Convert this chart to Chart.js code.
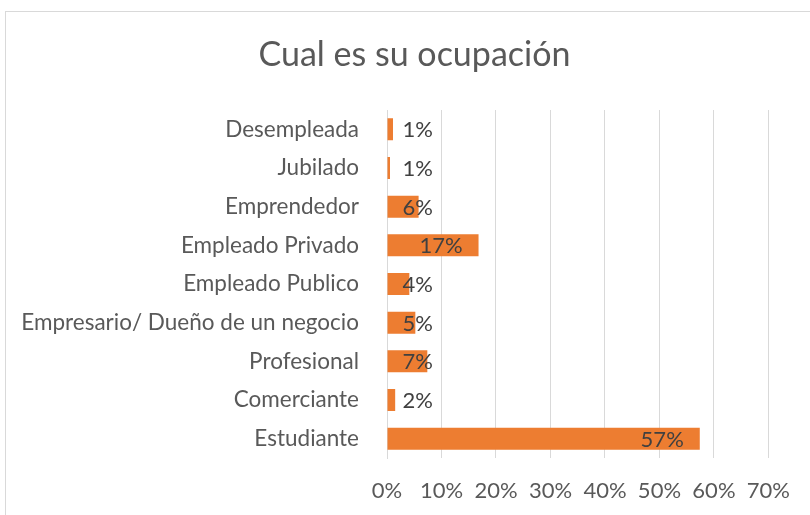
<!DOCTYPE html>
<html>
<head>
<meta charset="utf-8">
<script src="https://cdn.jsdelivr.net/npm/chart.js@4"></script>
<style>
    html, body { margin: 0; padding: 0; background: #fff; overflow: hidden; }
    #frame { position: absolute; left: 5px; top: 11px; width: 840px; height: 540px; border: 1px solid #d9d9d9; }
    #wrap { position: absolute; left: 0; top: 0; width: 810px; height: 515px; }
</style>
</head>
<body>
<div id="frame"></div>
<div id="wrap"><canvas id="chart"></canvas></div>
<script>
// Chart data
const categories = [
    'Desempleada',
    'Jubilado',
    'Emprendedor',
    'Empleado Privado',
    'Empleado Publico',
    'Empresario/ Dueño de un negocio',
    'Profesional',
    'Comerciante',
    'Estudiante'
];
const percentages = [1.1, 0.55, 5.8, 16.8, 4.1, 5.2, 7.4, 1.5, 57.4];
const tickValues = [0, 10, 20, 30, 40, 50, 60, 70];
const chartTitle = 'Cual es su ocupación';

const textColor = '#595959';
const fontFamily = 'Lato, "Noto Sans", sans-serif';

// Title centred on the chart frame (not the plot), like the original
const frameTitle = {
    id: 'frameTitle',
    afterDraw(chart) {
        const ctx = chart.ctx;
        ctx.save();
        ctx.font = '34px ' + fontFamily;
        ctx.fillStyle = textColor;
        ctx.textAlign = 'center';
        ctx.textBaseline = 'middle';
        ctx.fillText(chartTitle, 414.5, 55);
        ctx.restore();
    }
};

// Value labels: inside end of the bar, pushed out for short bars
const barLabels = {
    id: 'barLabels',
    afterDatasetsDraw(chart) {
        const ctx = chart.ctx;
        const meta = chart.getDatasetMeta(0);
        ctx.save();
        ctx.font = '22px ' + fontFamily;
        ctx.fillStyle = '#404040';
        ctx.textBaseline = 'middle';
        ctx.textAlign = 'left';
        meta.data.forEach((bar, i) => {
            const text = Math.round(percentages[i]) + '%';
            const w = ctx.measureText(text).width;
            const left = Math.max(bar.x - 16 - w, bar.base + 15);
            ctx.fillText(text, left, bar.y + 1);
        });
        ctx.restore();
    }
};

new Chart(document.getElementById('chart'), {
    type: 'bar',
    data: {
        labels: categories,
        datasets: [{
            data: percentages,
            backgroundColor: '#ED7D31',
            borderWidth: 0,
            categoryPercentage: 1,
            barPercentage: 0.57
        }]
    },
    plugins: [barLabels, frameTitle],
    options: {
        indexAxis: 'y',
        responsive: true,
        maintainAspectRatio: false,
        animation: false,
        layout: {
            padding: { left: 19, right: 40, top: 110, bottom: 0 }
        },
        plugins: {
            legend: { display: false },
            tooltip: { enabled: false },
            title: { display: false }
        },
        scales: {
            x: {
                min: 0,
                max: 70,
                afterBuildTicks(scale) {
                    scale.ticks = tickValues.map(v => ({ value: v }));
                },
                afterFit(scale) {
                    scale.height = 57;
                },
                ticks: {
                    color: textColor,
                    font: { family: fontFamily, size: 22 },
                    padding: 20,
                    maxRotation: 0,
                    callback: value => value + '%'
                },
                grid: {
                    color: '#d9d9d9',
                    lineWidth: 1,
                    drawTicks: false
                },
                border: { display: false }
            },
            y: {
                afterFit(scale) {
                    scale.width = 368;
                },
                ticks: {
                    color: textColor,
                    font: { family: fontFamily, size: 22.5 },
                    padding: 28,
                    autoSkip: false
                },
                grid: { display: false, drawTicks: false },
                border: { display: true, color: '#d9d9d9' }
            }
        }
    }
});
</script>
</body>
</html>
